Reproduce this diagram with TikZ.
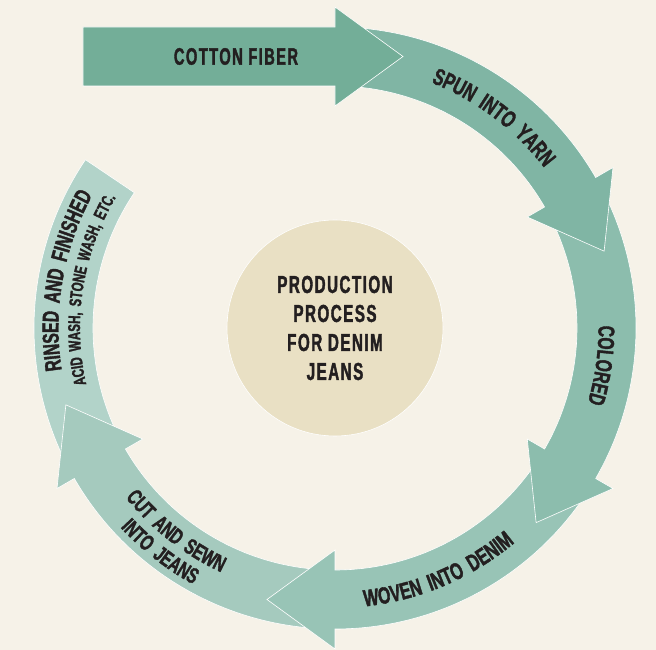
\documentclass[tikz,border=0pt]{standalone}
\usepackage{fontspec}
\usetikzlibrary{calc,decorations.text}

\definecolor{Cream}{RGB}{246,242,232}
\definecolor{Sand}{RGB}{233,224,196}
\definecolor{Ink}{RGB}{35,31,32}
\definecolor{StageA}{RGB}{115,174,152}
\definecolor{StageB}{RGB}{128,181,164}
\definecolor{StageC}{RGB}{140,189,173}
\definecolor{StageD}{RGB}{152,196,182}
\definecolor{StageE}{RGB}{165,202,190}
\definecolor{StageF}{RGB}{178,211,201}

\newfontfamily\boxfont{Liberation Sans}[FakeStretch=0.62,LetterSpace=6,FakeBold=1.6]
\newfontfamily\ringfont{Liberation Sans}[FakeStretch=0.68,LetterSpace=14,FakeBold=1.6]

% band of the ring from #2 to #3 (clockwise), closed by an arrow head
\newcommand\stagearrow[3]{%
  \fill[#1,draw=white,line width=0.6pt] (#2:242) -- (#2:301)
    arc[start angle=#2,end angle=#3,radius=301] -- (#3:321)
    -- ($(#3:271.5)+(#3-90:68)$) -- (#3:222) -- (#3:242)
    arc[start angle=#3,end angle=#2,radius=242] -- cycle;}

% text set along an arc: size, radius, from, to, text
\newcommand\ringlabel[5]{%
  \path[decorate,decoration={text along path,text align=center,
    text={|\ringfont\bfseries\fontsize{#1}{#1}\selectfont\color{Ink}|#5}}]
    (#3:#2) arc[start angle=#3,end angle=#4,radius=#2];}

\begin{document}
\begin{tikzpicture}[x=1pt,y=1pt,
  hub/.style={circle,fill=Sand,draw=white,line width=0.6pt,minimum size=216pt,
    inner sep=0pt,align=center,text=Ink,
    font=\boxfont\bfseries\fontsize{24.5}{29}\selectfont}]
  \fill[Cream] (-335,-322) rectangle (321,328);

  % ring, last stage first so every head lies over the band after it
  \fill[StageF,draw=white,line width=0.6pt] (-148:242) -- (-148:301)
    arc[start angle=-148,end angle=-214,radius=301] -- (-214:242)
    arc[start angle=-214,end angle=-148,radius=242] -- cycle;
  \stagearrow{StageE}{-88}{-150}
  \stagearrow{StageD}{-28}{-90}
  \stagearrow{StageC}{32}{-30}
  \stagearrow{StageB}{90}{30}

  % straight arrow feeding the ring
  \fill[StageA,draw=white,line width=0.6pt] (-252,242) -- (-252,301) -- (0,301)
    -- (0,321) -- (68,271.5) -- (0,222) -- (0,242) -- cycle;
  \node[inner sep=0pt,text=Ink,font=\boxfont\bfseries\fontsize{23.7}{26}\selectfont]
    (cotton) at (-99,271.5) {COTTON FIBER};

  \node[hub] (hub) at (0,0) {PRODUCTION\\PROCESS\\FOR DENIM\\JEANS};

  \ringlabel{23.5}{263.5}{83}{23}{SPUN INTO YARN}
  \ringlabel{23}{263.5}{22}{-38}{COLORED}
  \ringlabel{23.5}{280}{-97}{-37}{WOVEN INTO DENIM}
  \ringlabel{22}{269.5}{-158}{-98}{CUT AND SEWN}
  \ringlabel{22}{293}{-158}{-98}{INTO JEANS}
  \ringlabel{23}{276.5}{200}{140}{RINSED AND FINISHED}
  \ringlabel{17}{255}{201}{141}{ACID WASH, STONE WASH, ETC.}
\end{tikzpicture}
\end{document}
